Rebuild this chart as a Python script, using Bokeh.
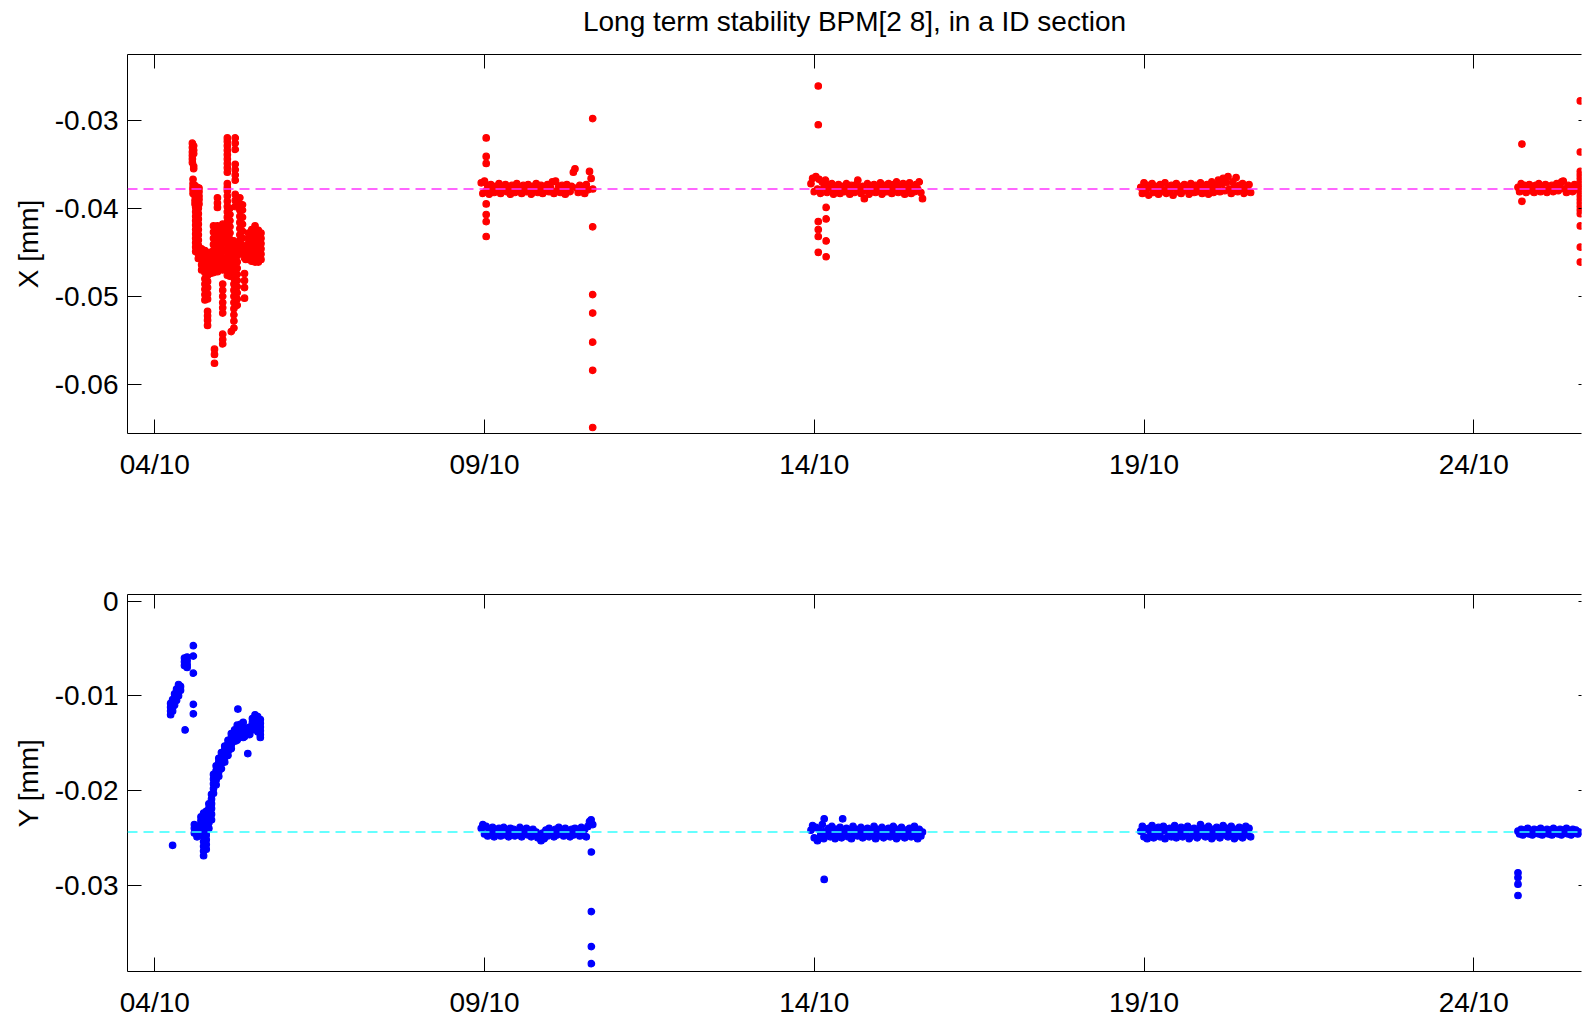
from bokeh.plotting import figure
from bokeh.models import Span, FixedTicker, LinearAxis, Range1d, ColumnDataSource
from bokeh.layouts import column
from bokeh.embed import file_html
from bokeh.resources import INLINE

# ---------------- data ----------------
TITLE = "Long term stability BPM[2 8], in a ID section"
tick_days = [0, 5, 10, 15, 20]                      # days since 04/10 00:00
tick_labels = ["04/10", "09/10", "14/10", "19/10", "24/10"]
x_day_range = (-0.414, 21.633)

x_ticks = [-0.06, -0.05, -0.04, -0.03]
x_tick_labels = ["-0.06", "-0.05", "-0.04", "-0.03"]
x_limits = (-0.06558, -0.02252)
x_ref = -0.0378

y_ticks = [-0.03, -0.02, -0.01, 0.0]
y_tick_labels = ["-0.03", "-0.02", "-0.01", "0"]
y_limits = (-0.03913, 0.00071)
y_ref = -0.0244

sample_step = 0.0245   # days between samples in the stable runs

# X [mm] : first (unstable) run, (day, values) columns
x_run1 = [
    (0.57, [-0.0326, -0.0331, -0.0336, -0.0340, -0.0344, -0.0348]),
    (0.59, [-0.0329, -0.0334, -0.0338, -0.0352, -0.0355]),
    (0.58, [-0.0367, -0.0372, -0.0376, -0.0379, -0.0383]),
    (0.61, [-0.0374, -0.0378, -0.0381, -0.0386, -0.0391, -0.0395]),
    (0.64, [-0.0376, -0.0379, -0.0384, -0.0389]),
    (0.67, [-0.0377, -0.0381, -0.0386, -0.0390, -0.0395]),
    (0.62, [-0.0399, -0.0404, -0.0409, -0.0414, -0.0419, -0.0424, -0.0429, -0.0434, -0.0439, -0.0444, -0.0449]),
    (0.66, [-0.0400, -0.0406, -0.0412, -0.0418, -0.0424, -0.0430, -0.0436, -0.0442, -0.0447, -0.0452, -0.0457]),
    (0.71, [-0.0446, -0.0452, -0.0458, -0.0464, -0.0470]),
    (0.76, [-0.0448, -0.0455, -0.0461, -0.0467, -0.0473, -0.0480, -0.0486, -0.0492, -0.0498, -0.0504]),
    (0.80, [-0.0452, -0.0458, -0.0464, -0.0470, -0.0476, -0.0483, -0.0490, -0.0497, -0.0503, -0.0517, -0.0522, -0.0527, -0.0533]),
    (0.84, [-0.0450, -0.0456, -0.0462, -0.0468, -0.0474]),
    (0.89, [-0.0420, -0.0427, -0.0434, -0.0441, -0.0448, -0.0455, -0.0461, -0.0467, -0.0473]),
    (0.905, [-0.0560, -0.0566, -0.0576]),
    (0.95, [-0.0388, -0.0394, -0.0399, -0.0420, -0.0426, -0.0432, -0.0440, -0.0447, -0.0454, -0.0460, -0.0466, -0.0472]),
    (1.00, [-0.0430, -0.0436, -0.0442, -0.0450, -0.0456, -0.0462]),
    (1.03, [-0.0418, -0.0425, -0.0432, -0.0440, -0.0448, -0.0456, -0.0463, -0.0470, -0.0486, -0.0493, -0.0500,
            -0.0507, -0.0513, -0.0519, -0.0543, -0.0549, -0.0554]),
    (1.10, [-0.0320, -0.0324, -0.0329, -0.0334, -0.0339, -0.0344, -0.0349, -0.0354, -0.0359, -0.0372, -0.0376,
            -0.0380, -0.0386, -0.0392, -0.0398, -0.0404, -0.0410, -0.0416, -0.0422, -0.0428, -0.0434, -0.0440,
            -0.0446, -0.0452, -0.0458, -0.0464, -0.0470, -0.0476]),
    (1.14, [-0.0400, -0.0407, -0.0414, -0.0421, -0.0428, -0.0435, -0.0442, -0.0449, -0.0456, -0.0463, -0.0470, -0.0477]),
    (1.16, [-0.0540]),
    (1.22, [-0.0320, -0.0326, -0.0333, -0.0350, -0.0356, -0.0362, -0.0368, -0.0384, -0.0391, -0.0398]),
    (1.20, [-0.0437, -0.0444, -0.0451, -0.0458, -0.0465, -0.0472, -0.0479, -0.0486, -0.0493, -0.0500, -0.0507,
            -0.0514, -0.0521, -0.0528, -0.0536]),
    (1.25, [-0.0440, -0.0447, -0.0454, -0.0461, -0.0468, -0.0475, -0.0482, -0.0489, -0.0496, -0.0503, -0.0510]),
    (1.29, [-0.0388, -0.0395, -0.0402, -0.0409, -0.0416, -0.0423, -0.0430, -0.0437, -0.0444, -0.0451]),
    (1.33, [-0.0396, -0.0402, -0.0410, -0.0418, -0.0426, -0.0434, -0.0442, -0.0449]),
    (1.36, [-0.0450, -0.0456, -0.0474, -0.0482, -0.0490, -0.0502]),
    (1.38, [-0.0445, -0.0452, -0.0458]),
    (1.42, [-0.0428, -0.0434, -0.0440, -0.0446, -0.0452, -0.0458]),
    (1.47, [-0.0424, -0.0430, -0.0436, -0.0442, -0.0448, -0.0454, -0.0460]),
    (1.52, [-0.0420, -0.0426, -0.0432, -0.0438, -0.0444, -0.0450, -0.0456, -0.0461]),
    (1.57, [-0.0425, -0.0431, -0.0437, -0.0443, -0.0449, -0.0455, -0.0461]),
    (1.61, [-0.0428, -0.0434, -0.0440, -0.0446, -0.0452, -0.0458]),
]

# X [mm] : stable runs (start day, values at sample_step)
x_run2_start = 4.95
x_run2 = [-0.0371, -0.0383, -0.0369, -0.0380, -0.0374, -0.0384, -0.0373, -0.0379, -0.0382, -0.0375,
          -0.0380, -0.0372, -0.0383, -0.0376, -0.0379, -0.0373, -0.0381, -0.0377, -0.0384, -0.0374,
          -0.0378, -0.0382, -0.0372, -0.0380, -0.0376, -0.0383, -0.0374, -0.0379, -0.0381, -0.0373,
          -0.0377, -0.0384, -0.0375, -0.0380, -0.0372, -0.0382, -0.0378, -0.0374, -0.0383, -0.0376,
          -0.0380, -0.0373, -0.0381, -0.0377, -0.0370, -0.0383, -0.0369, -0.0380, -0.0375, -0.0382,
          -0.0374, -0.0379, -0.0384, -0.0373, -0.0378, -0.0381, -0.0375, -0.0359, -0.0355, -0.0377,
          -0.0382, -0.0374, -0.0380, -0.0376, -0.0383, -0.0373, -0.0379, -0.0358, -0.0366, -0.0378]
x_run3_start = 9.95
x_run3 = [-0.0372, -0.0366, -0.0381, -0.0364, -0.0378, -0.0367, -0.0383, -0.0370, -0.0376, -0.0368,
          -0.0382, -0.0374, -0.0379, -0.0372, -0.0384, -0.0376, -0.0380, -0.0373, -0.0383, -0.0377,
          -0.0375, -0.0381, -0.0372, -0.0379, -0.0384, -0.0374, -0.0378, -0.0382, -0.0373, -0.0368,
          -0.0377, -0.0383, -0.0375, -0.0389, -0.0380, -0.0372, -0.0384, -0.0376, -0.0379, -0.0373,
          -0.0382, -0.0375, -0.0380, -0.0371, -0.0384, -0.0377, -0.0374, -0.0381, -0.0372, -0.0379,
          -0.0383, -0.0373, -0.0378, -0.0370, -0.0382, -0.0376, -0.0380, -0.0372, -0.0384, -0.0375,
          -0.0379, -0.0371, -0.0383, -0.0376, -0.0381, -0.0373, -0.0378, -0.0370, -0.0382, -0.0389]
x_run4_start = 14.95
x_run4 = [-0.0376, -0.0383, -0.0371, -0.0380, -0.0374, -0.0385, -0.0377, -0.0372, -0.0382, -0.0375,
          -0.0379, -0.0384, -0.0373, -0.0378, -0.0381, -0.0371, -0.0383, -0.0376, -0.0380, -0.0374,
          -0.0385, -0.0377, -0.0372, -0.0381, -0.0375, -0.0383, -0.0378, -0.0373, -0.0380, -0.0376,
          -0.0384, -0.0372, -0.0379, -0.0382, -0.0374, -0.0381, -0.0377, -0.0371, -0.0383, -0.0375,
          -0.0380, -0.0373, -0.0384, -0.0376, -0.0370, -0.0382, -0.0374, -0.0379, -0.0368, -0.0381,
          -0.0373, -0.0366, -0.0380, -0.0371, -0.0364, -0.0378, -0.0383, -0.0370, -0.0376, -0.0365,
          -0.0381, -0.0374, -0.0378, -0.0372, -0.0383, -0.0375, -0.0380, -0.0373, -0.0382]
x_run5_start = 20.67
x_run5 = [-0.0376, -0.0381, -0.0372, -0.0379, -0.0374, -0.0382, -0.0376, -0.0373, -0.0380, -0.0375,
          -0.0382, -0.0374, -0.0378, -0.0372, -0.0381, -0.0376, -0.0379, -0.0373, -0.0382, -0.0375,
          -0.0378, -0.0374, -0.0381, -0.0376, -0.0372, -0.0380, -0.0375, -0.0370, -0.0369, -0.0378,
          -0.0382, -0.0374, -0.0379, -0.0376, -0.0381, -0.0373, -0.0378, -0.0375]

# X [mm] : isolated readings (day, values)
x_outliers = [
    (5.025, [-0.0320, -0.0341, -0.0349, -0.0395, -0.0407, -0.0415, -0.0432]),
    (6.64, [-0.0298, -0.0421, -0.0498, -0.0519, -0.0552, -0.0584, -0.0649]),
    (10.06, [-0.0261, -0.0305, -0.0415, -0.0424, -0.0432, -0.0450]),
    (10.18, [-0.0399, -0.0412, -0.0437, -0.0455]),
    (20.73, [-0.0327, -0.0392]),
    (21.615, [-0.0278, -0.0336, -0.0358, -0.0362, -0.0366, -0.0370, -0.0374, -0.0378, -0.0382, -0.0386,
              -0.0390, -0.0394, -0.0398, -0.0402, -0.0406, -0.0420, -0.0444, -0.0461]),
]

# Y [mm] : first (unstable) run, (day, values) columns
y_run1 = [
    (0.24, [-0.0112, -0.0116, -0.0120, -0.0108]),
    (0.27, [-0.0104, -0.0108, -0.0112, -0.0116, -0.0258]),
    (0.30, [-0.0098, -0.0102, -0.0106, -0.0110]),
    (0.33, [-0.0093, -0.0097, -0.0101, -0.0105]),
    (0.36, [-0.0088, -0.0092, -0.0096, -0.0100]),
    (0.39, [-0.0090, -0.0094]),
    (0.45, [-0.0060, -0.0064, -0.0068]),
    (0.46, [-0.0136]),
    (0.49, [-0.0059, -0.0063, -0.0067, -0.0070]),
    (0.585, [-0.0047, -0.0058, -0.0076, -0.0109, -0.0119]),
    (0.60, [-0.0236, -0.0240, -0.0245]),
    (0.64, [-0.0238, -0.0242, -0.0246, -0.0249]),
    (0.70, [-0.0228, -0.0232, -0.0236, -0.0240, -0.0244]),
    (0.74, [-0.0224, -0.0229, -0.0234, -0.0239, -0.0244, -0.0249, -0.0254, -0.0259, -0.0264, -0.0269]),
    (0.78, [-0.0222, -0.0227, -0.0232, -0.0237, -0.0242, -0.0247, -0.0252, -0.0257, -0.0262]),
    (0.82, [-0.0214, -0.0219, -0.0224, -0.0229, -0.0234, -0.0240]),
    (0.86, [-0.0204, -0.0209, -0.0214, -0.0219, -0.0225, -0.0231]),
    (0.89, [-0.0183, -0.0188, -0.0193, -0.0198, -0.0203]),
    (0.93, [-0.0174, -0.0179, -0.0184, -0.0189, -0.0194]),
    (0.97, [-0.0166, -0.0170, -0.0175, -0.0180, -0.0185]),
    (1.01, [-0.0160, -0.0164, -0.0168, -0.0172, -0.0177]),
    (1.06, [-0.0153, -0.0157, -0.0161, -0.0165, -0.0170]),
    (1.11, [-0.0147, -0.0151, -0.0155, -0.0159, -0.0163]),
    (1.16, [-0.0140, -0.0144, -0.0148, -0.0152, -0.0156]),
    (1.21, [-0.0136, -0.0140, -0.0144, -0.0148]),
    (1.25, [-0.0131, -0.0135, -0.0139, -0.0143, -0.0147]),
    (1.26, [-0.0114]),
    (1.30, [-0.0130, -0.0134, -0.0138, -0.0142]),
    (1.34, [-0.0128, -0.0132, -0.0136, -0.0140, -0.0144]),
    (1.36, [-0.0135, -0.0139, -0.0143]),
    (1.41, [-0.0161]),
    (1.44, [-0.0133, -0.0137, -0.0141]),
    (1.48, [-0.0124, -0.0128, -0.0132, -0.0136]),
    (1.52, [-0.0120, -0.0124, -0.0128, -0.0132]),
    (1.56, [-0.0122, -0.0126, -0.0130, -0.0134, -0.0138]),
    (1.60, [-0.0125, -0.0129, -0.0133, -0.0137, -0.0141, -0.0144]),
]

y_run2_start = 4.95
y_run2 = [-0.0240, -0.0236, -0.0246, -0.0238, -0.0248, -0.0241, -0.0245, -0.0239, -0.0249, -0.0242,
          -0.0246, -0.0240, -0.0248, -0.0243, -0.0239, -0.0247, -0.0242, -0.0249, -0.0240, -0.0245,
          -0.0241, -0.0248, -0.0243, -0.0246, -0.0239, -0.0249, -0.0242, -0.0245, -0.0240, -0.0247,
          -0.0243, -0.0249, -0.0241, -0.0246, -0.0244, -0.0250, -0.0247, -0.0253, -0.0245, -0.0251,
          -0.0242, -0.0248, -0.0240, -0.0246, -0.0243, -0.0249, -0.0241, -0.0247, -0.0239, -0.0245,
          -0.0242, -0.0248, -0.0240, -0.0246, -0.0243, -0.0249, -0.0241, -0.0247, -0.0240, -0.0245,
          -0.0242, -0.0248, -0.0239, -0.0246, -0.0241, -0.0249, -0.0238, -0.0233, -0.0231, -0.0236]
y_run3_start = 9.95
y_run3 = [-0.0242, -0.0237, -0.0250, -0.0239, -0.0253, -0.0241, -0.0247, -0.0236, -0.0251, -0.0243,
          -0.0246, -0.0240, -0.0249, -0.0238, -0.0245, -0.0251, -0.0241, -0.0247, -0.0239, -0.0250,
          -0.0243, -0.0246, -0.0240, -0.0249, -0.0242, -0.0251, -0.0238, -0.0246, -0.0241, -0.0248,
          -0.0244, -0.0239, -0.0250, -0.0242, -0.0247, -0.0240, -0.0249, -0.0243, -0.0246, -0.0238,
          -0.0251, -0.0241, -0.0248, -0.0244, -0.0239, -0.0250, -0.0242, -0.0247, -0.0240, -0.0249,
          -0.0243, -0.0238, -0.0246, -0.0251, -0.0241, -0.0248, -0.0239, -0.0245, -0.0250, -0.0242,
          -0.0247, -0.0240, -0.0249, -0.0243, -0.0238, -0.0246, -0.0251, -0.0241, -0.0248, -0.0244]
y_run4_start = 14.95
y_run4 = [-0.0243, -0.0238, -0.0249, -0.0241, -0.0251, -0.0240, -0.0246, -0.0237, -0.0250, -0.0242,
          -0.0247, -0.0239, -0.0249, -0.0243, -0.0238, -0.0251, -0.0241, -0.0246, -0.0240, -0.0249,
          -0.0244, -0.0237, -0.0250, -0.0242, -0.0247, -0.0239, -0.0249, -0.0243, -0.0246, -0.0238,
          -0.0251, -0.0241, -0.0248, -0.0240, -0.0245, -0.0250, -0.0242, -0.0236, -0.0247, -0.0240,
          -0.0249, -0.0243, -0.0238, -0.0246, -0.0251, -0.0241, -0.0248, -0.0239, -0.0245, -0.0250,
          -0.0242, -0.0237, -0.0247, -0.0240, -0.0249, -0.0243, -0.0238, -0.0246, -0.0251, -0.0241,
          -0.0248, -0.0239, -0.0245, -0.0250, -0.0242, -0.0238, -0.0247, -0.0240, -0.0249]
y_run5_start = 20.67
y_run5 = [-0.0243, -0.0246, -0.0241, -0.0247, -0.0242, -0.0245, -0.0240, -0.0246, -0.0243, -0.0247,
          -0.0241, -0.0245, -0.0242, -0.0246, -0.0240, -0.0247, -0.0243, -0.0245, -0.0241, -0.0246,
          -0.0242, -0.0247, -0.0240, -0.0245, -0.0243, -0.0246, -0.0241, -0.0247, -0.0242, -0.0245,
          -0.0240, -0.0246, -0.0243, -0.0247, -0.0241, -0.0245, -0.0242, -0.0246, -0.0244]

y_outliers = [
    (6.62, [-0.0265, -0.0328, -0.0365, -0.0383]),
    (10.15, [-0.0230, -0.0294]),
    (10.43, [-0.0230]),
    (20.67, [-0.0287, -0.0292, -0.0299, -0.0311]),
]


# ---------------- helpers ----------------
def from_columns(cols):
    t, v = [], []
    for day, vals in cols:
        for val in vals:
            t.append(day)
            v.append(val)
    return t, v


def from_run(start, vals):
    return [start + i * sample_step for i in range(len(vals))], list(vals)


def collect(col_sets, runs):
    t, v = [], []
    for cols in col_sets:
        a, b = from_columns(cols)
        t += a
        v += b
    for start, vals in runs:
        a, b = from_run(start, vals)
        t += a
        v += b
    return t, v


FONT = "Liberation Sans"
FS = "28px"


def make_fig(height, ylim, yticks, ylabels, ylabel, border_top, border_bottom, title=None):
    p = figure(width=1582, height=height,
               x_range=Range1d(*x_day_range), y_range=Range1d(*ylim),
               output_backend="svg", toolbar_location=None,
               min_border_left=127, min_border_right=1,
               min_border_top=border_top, min_border_bottom=border_bottom,
               background_fill_color="white", border_fill_color="white")
    p.outline_line_color = None
    p.grid.visible = False

    xt = FixedTicker(ticks=tick_days, minor_ticks=[])
    yt = FixedTicker(ticks=yticks, minor_ticks=[])

    xa = p.xaxis[0]
    xa.ticker = xt
    xa.major_label_overrides = dict(zip(tick_days, tick_labels))
    ya = p.yaxis[0]
    ya.ticker = yt
    ya.major_label_overrides = dict(zip(yticks, ylabels))
    ya.axis_label = ylabel

    for ax in (xa, ya):
        ax.major_tick_in = 14
        ax.major_tick_out = 0
        ax.minor_tick_in = 0
        ax.minor_tick_out = 0
        ax.axis_line_color = "black"
        ax.axis_line_width = 1
        ax.major_tick_line_color = "black"
        ax.major_label_text_font = FONT
        ax.major_label_text_font_size = FS
        ax.major_label_text_color = "black"
        ax.axis_label_text_font = FONT
        ax.axis_label_text_font_size = FS
        ax.axis_label_text_font_style = "normal"
        ax.axis_label_text_color = "black"
    xa.major_label_standoff = 15
    ya.major_label_standoff = 9
    ya.axis_label_standoff = 8

    # top frame edge with inward ticks; it also carries the chart title
    top = LinearAxis(ticker=xt, major_tick_in=14, major_tick_out=0,
                     minor_tick_in=0, minor_tick_out=0,
                     axis_line_color="black", major_tick_line_color="black",
                     major_label_text_font_size="0px", major_label_standoff=0,
                     major_label_overrides={d: "" for d in tick_days})
    if title:
        top.axis_label = title
        top.axis_label_text_font = FONT
        top.axis_label_text_font_size = FS
        top.axis_label_text_font_style = "normal"
        top.axis_label_text_color = "black"
        top.axis_label_standoff = 18
    p.add_layout(top, "above")
    right = LinearAxis(ticker=yt, major_tick_in=3, major_tick_out=0,
                       minor_tick_in=0, minor_tick_out=0,
                       axis_line_color=None, major_tick_line_color="black",
                       major_label_text_font_size="0px", major_label_standoff=0,
                       major_label_overrides={v: "" for v in yticks})
    p.add_layout(right, "right")
    return p


# ---------------- top panel: X ----------------
p1 = make_fig(510, x_limits, x_ticks, x_tick_labels, "X [mm]", 54, 77, TITLE)
xt_all, xv_all = collect([x_run1, x_outliers],
                         [(x_run2_start, x_run2), (x_run3_start, x_run3),
                          (x_run4_start, x_run4), (x_run5_start, x_run5)])
p1.scatter(x="t", y="v", source=ColumnDataSource(dict(t=xt_all, v=xv_all)),
           marker="circle", size=6.5, fill_color="#ff0000", line_color="#ff0000", line_width=1.2)
p1.add_layout(Span(location=x_ref, dimension="width", line_color="#ff33ff",
                   line_dash="10 6", line_width=1.5))

# ---------------- bottom panel: Y ----------------
p2 = make_fig(510, y_limits, y_ticks, y_tick_labels, "Y [mm]", 84, 47)
yt_all, yv_all = collect([y_run1, y_outliers],
                         [(y_run2_start, y_run2), (y_run3_start, y_run3),
                          (y_run4_start, y_run4), (y_run5_start, y_run5)])
p2.scatter(x="t", y="v", source=ColumnDataSource(dict(t=yt_all, v=yv_all)),
           marker="circle", size=6.5, fill_color="#0000ff", line_color="#0000ff", line_width=1.2)
p2.add_layout(Span(location=y_ref, dimension="width", line_color="#33ffff",
                   line_dash="10 6", line_width=1.5))

layout = column(p1, p2, spacing=0)
open("out.html", "w").write(file_html(layout, INLINE))
